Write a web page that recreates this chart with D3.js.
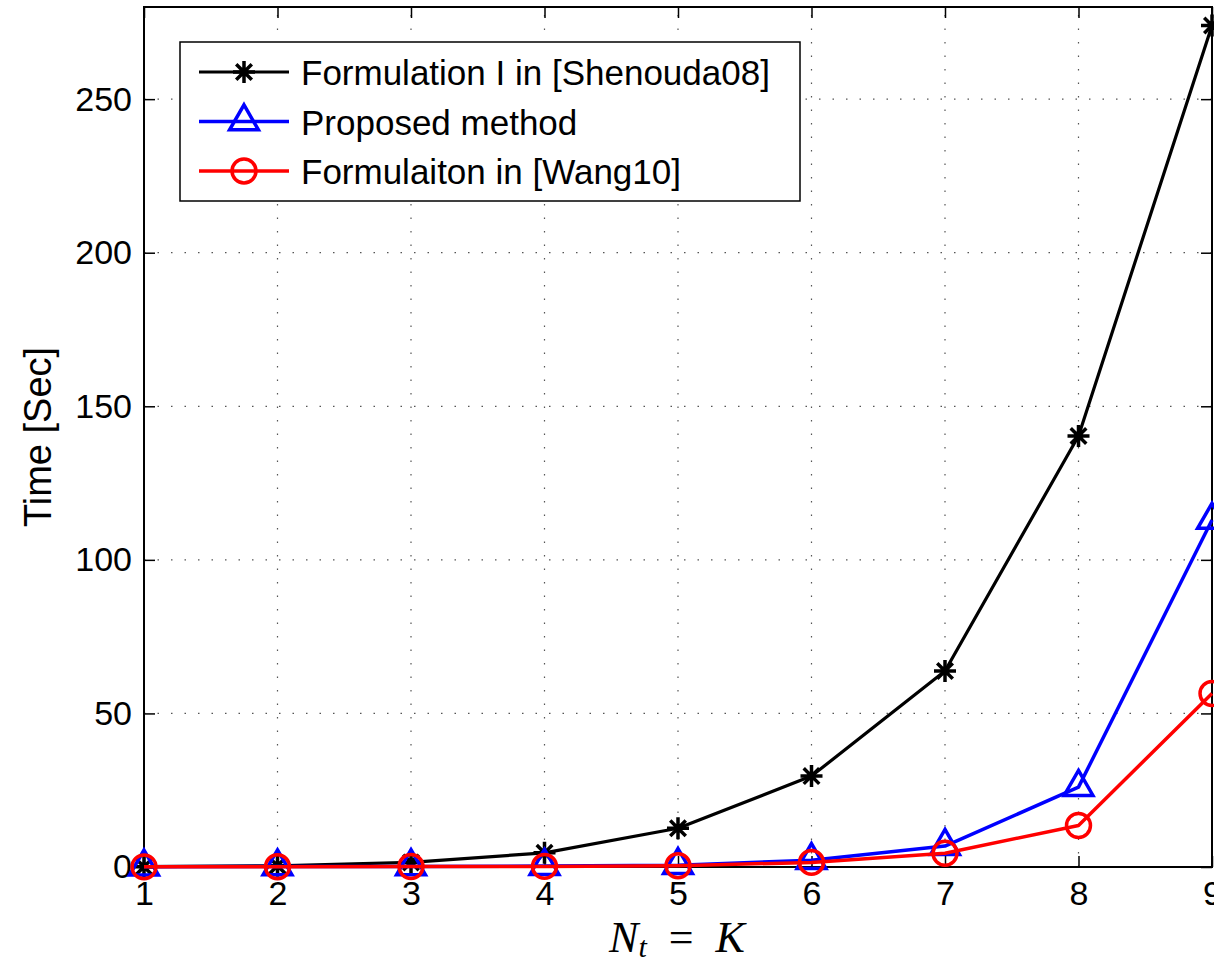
<!DOCTYPE html>
<html>
<head>
<meta charset="utf-8">
<script src="https://cdn.jsdelivr.net/npm/d3@7"></script>
<style>
  body { margin: 0; background: #fff; }
  text { font-family: "Liberation Sans", Arial, sans-serif; }
</style>
</head>
<body>
<div id="chart"></div>
<script>
// data
const nValues = [1, 2, 3, 4, 5, 6, 7, 8, 9];
const shenouda = [0.1, 0.4, 1.5, 4.6, 12.6, 29.6, 63.8, 140.3, 274];
const proposed = [0.1, 0.15, 0.2, 0.3, 0.6, 2.2, 6.8, 26, 113];
const wang = [0.05, 0.1, 0.15, 0.2, 0.4, 1.5, 4.5, 13.5, 56.5];
const yTicks = [0, 50, 100, 150, 200, 250];
const seriesNames = ["Formulation I in [Shenouda08]", "Proposed method", "Formulaiton in [Wang10]"];

const W = 1214, H = 964;
const mLeft = 144, mTop = 7, mRight = 1212, mBottom = 867;

const svg = d3.select("#chart").append("svg")
  .attr("width", W)
  .attr("height", H);

const x = d3.scaleLinear().domain([1, 9]).range([mLeft, mRight]);
const y = d3.scaleLinear().domain([0, 280]).range([mBottom, mTop]);

// grid
const grid = svg.append("g").attr("stroke", "#555").attr("stroke-width", 1.2)
  .attr("stroke-dasharray", "1.5,12");
grid.selectAll(".gx").data(nValues.slice(1, -1)).enter().append("line")
  .attr("x1", d => x(d)).attr("x2", d => x(d))
  .attr("y1", mBottom).attr("y2", mTop);
grid.selectAll(".gy").data(yTicks.slice(1)).enter().append("line")
  .attr("y1", d => y(d)).attr("y2", d => y(d))
  .attr("x1", mLeft).attr("x2", mRight);

// axes with inward ticks on all four sides
const tickLen = 11;
svg.append("g").attr("transform", "translate(0," + mBottom + ")")
  .call(d3.axisBottom(x).tickValues(nValues).tickSize(-tickLen).tickPadding(14).tickFormat(d3.format("d")))
  .call(g => g.select(".domain").remove());
svg.append("g").attr("transform", "translate(0," + mTop + ")")
  .call(d3.axisTop(x).tickValues(nValues).tickSize(-tickLen).tickFormat(""))
  .call(g => g.select(".domain").remove());
svg.append("g").attr("transform", "translate(" + mLeft + ",0)")
  .call(d3.axisLeft(y).tickValues(yTicks).tickSize(-tickLen).tickPadding(12))
  .call(g => g.select(".domain").remove());
svg.append("g").attr("transform", "translate(" + mRight + ",0)")
  .call(d3.axisRight(y).tickValues(yTicks).tickSize(-tickLen).tickFormat(""))
  .call(g => g.select(".domain").remove());

svg.selectAll(".tick line").attr("stroke", "#000").attr("stroke-width", 1.5);
svg.selectAll(".tick text")
  .style("font-size", "34px")
  .style("font-family", "Liberation Sans, Arial, sans-serif")
  .attr("fill", "#000");

svg.append("rect")
  .attr("x", mLeft).attr("y", mTop)
  .attr("width", mRight - mLeft).attr("height", mBottom - mTop)
  .attr("fill", "none").attr("stroke", "#000").attr("stroke-width", 2);

// markers
function starPath(r) {
  const d = r * Math.SQRT1_2;
  return "M" + (-r) + ",0L" + r + ",0M0," + (-r) + "L0," + r +
    "M" + (-d) + "," + (-d) + "L" + d + "," + d + "M" + (-d) + "," + d + "L" + d + "," + (-d);
}
const triPath = d3.symbol().type(d3.symbolTriangle).size(360)();
const circPath = d3.symbol().type(d3.symbolCircle).size(450)();

const series = [
  { name: seriesNames[0], values: shenouda, color: "#000", path: starPath(11), width: 3.2 },
  { name: seriesNames[1], values: proposed, color: "#0000ff", path: triPath, width: 3.5 },
  { name: seriesNames[2], values: wang, color: "#ff0000", path: circPath, width: 3.5 }
];

const line = d3.line().x((d, i) => x(nValues[i])).y(d => y(d));

svg.append("defs").append("clipPath").attr("id", "clip")
  .append("rect").attr("x", mLeft - 20).attr("y", mTop - 20)
  .attr("width", mRight - mLeft + 40).attr("height", mBottom - mTop + 40);

series.forEach(s => {
  const g = svg.append("g").attr("clip-path", "url(#clip)");
  g.append("path")
    .attr("d", line(s.values))
    .attr("fill", "none")
    .attr("stroke", s.color)
    .attr("stroke-width", s.width)
    .attr("stroke-linejoin", "round");
  g.selectAll("path.mk").data(s.values).enter().append("path")
    .attr("class", "mk")
    .attr("d", s.path)
    .attr("transform", (d, i) => "translate(" + x(nValues[i]) + "," + y(d) + ")")
    .attr("fill", "none")
    .attr("stroke", s.color)
    .attr("stroke-width", 3.5);
});

// legend
const legend = svg.append("g");
legend.append("rect")
  .attr("x", 180).attr("y", 42)
  .attr("width", 620).attr("height", 159)
  .attr("fill", "#fff").attr("stroke", "#000").attr("stroke-width", 1.5);

const items = legend.selectAll(".item").data(series).enter().append("g")
  .attr("transform", (d, i) => "translate(0," + (72 + i * 49.5) + ")");
items.append("line")
  .attr("x1", 199).attr("x2", 289)
  .attr("stroke", d => d.color).attr("stroke-width", d => d.width);
items.append("path")
  .attr("d", d => d.path)
  .attr("transform", "translate(244,0)")
  .attr("fill", "none").attr("stroke", d => d.color).attr("stroke-width", 3.5);
items.append("text")
  .attr("x", 301).attr("y", 13)
  .style("font-size", "35px")
  .text(d => d.name);

// axis labels
svg.append("text")
  .attr("transform", "translate(51," + ((mTop + mBottom) / 2) + ") rotate(-90)")
  .attr("text-anchor", "middle")
  .style("font-size", "38px")
  .text("Time [Sec]");

const xl = svg.append("text")
  .attr("x", 677).attr("y", 952)
  .attr("text-anchor", "middle")
  .style("font-family", "Liberation Serif, DejaVu Serif, serif")
  .style("font-size", "44px");
xl.append("tspan").style("font-style", "italic").text("N");
xl.append("tspan").style("font-style", "italic").style("font-size", "30px").attr("dy", 5).text("t");
xl.append("tspan").attr("dy", -5).text("\u2002=\u2002");
xl.append("tspan").style("font-style", "italic").text("K");
</script>
</body>
</html>
